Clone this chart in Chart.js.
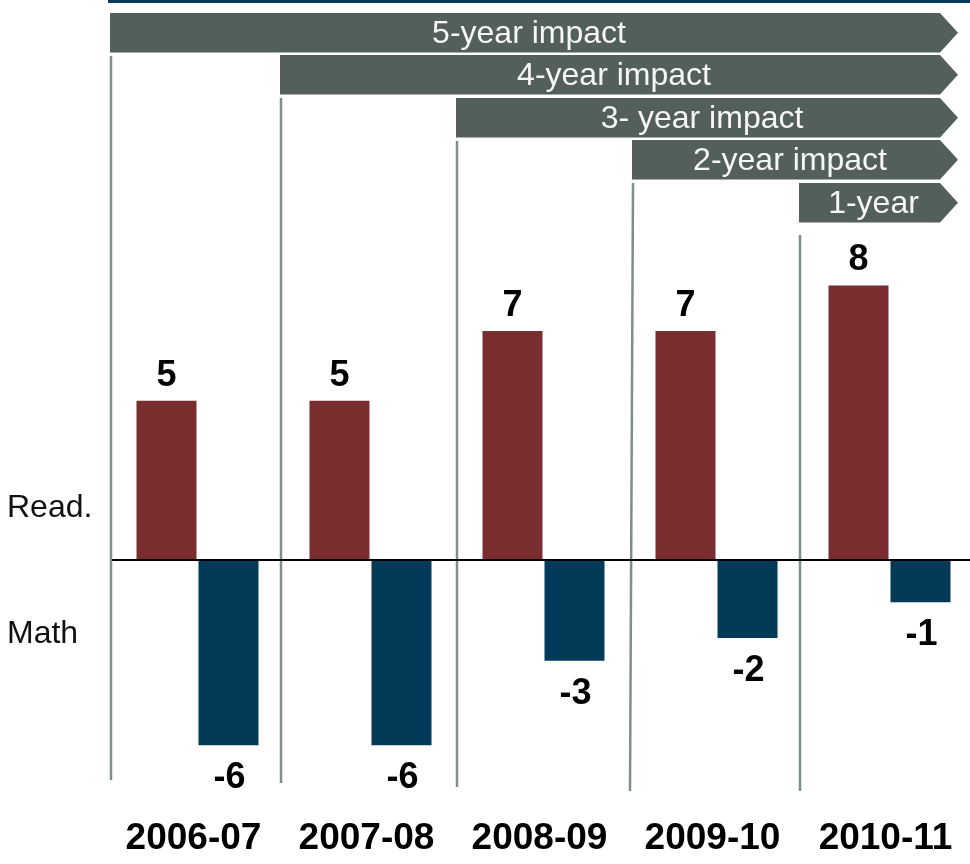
<!DOCTYPE html>
<html>
<head>
<meta charset="utf-8">
<script src="https://cdn.jsdelivr.net/npm/chart.js@4/dist/chart.umd.min.js"></script>
<style>
  html, body { margin: 0; padding: 0; background: #fff; overflow: hidden; }
  #wrap { width: 970px; height: 864px; overflow: hidden; position: relative; }
  canvas { display: block; }
</style>
</head>
<body>
<div id="wrap"><canvas id="c" width="976" height="864"></canvas></div>
<script>
// ---- data ----
const categories = ['2006-07', '2007-08', '2008-09', '2009-10', '2010-11'];
const seriesNames = ['Read.', 'Math'];
const readingValues = [4.9, 4.9, 7.05, 7.05, 8.45];
const mathValues = [-5.7, -5.7, -3.1, -2.4, -1.3];
const readingLabels = ['5', '5', '7', '7', '8'];
const mathLabels = ['-6', '-6', '-3', '-2', '-1'];
const bannerLabels = ['5-year impact', '4-year impact', '3- year impact', '2-year impact', '1-year'];

// ---- style ----
const FONT = '"Liberation Sans", Arial, sans-serif';
const RED = '#7a2d2e';
const BLUE = '#033a58';
const BANNER = '#535f5d';
const VLINE = '#7f8e8c';

const decor = {
  id: 'decor',
  beforeDatasetsDraw(chart) {
    const ctx = chart.ctx;
    const x = chart.scales.x;
    const catW = (x.getPixelForValue(1) - x.getPixelForValue(0));
    const bodyRight = 940, tipRight = 958;
    const bannerTops = [13, 55, 98, 140, 183];
    const bannerH = 39.5;
    const edgeNudge = [-1, -4, -1, 2, -4];
    const lineTops = [56, 98, 141, 183, 235];
    const lineBottoms = [780, 783, 787, 791, 791];
    const lineSlant = [0, 0, 0, -3, 0];
    ctx.save();
    // top rule
    ctx.fillStyle = '#0b3a5c';
    ctx.fillRect(108, 0, 862, 3);
    for (let i = 0; i < categories.length; i++) {
      const left = x.getPixelForValue(i) - catW / 2 + edgeNudge[i];
      const t = bannerTops[i];
      // banner arrow
      ctx.fillStyle = BANNER;
      ctx.beginPath();
      ctx.moveTo(left, t);
      ctx.lineTo(bodyRight, t);
      ctx.lineTo(tipRight, t + bannerH / 2);
      ctx.lineTo(bodyRight, t + bannerH);
      ctx.lineTo(left, t + bannerH);
      ctx.closePath();
      ctx.fill();
      ctx.fillStyle = '#f6f6f6';
      ctx.font = '32px ' + FONT;
      ctx.textAlign = 'center';
      ctx.textBaseline = 'middle';
      ctx.fillText(bannerLabels[i], (left + bodyRight) / 2 + 4, t + bannerH / 2 + 1);
      // vertical separator
      ctx.strokeStyle = VLINE;
      ctx.lineWidth = 2.5;
      ctx.beginPath();
      ctx.moveTo(left + 1, lineTops[i]);
      ctx.lineTo(left + 1 + lineSlant[i], lineBottoms[i]);
      ctx.stroke();
    }
    // series labels on the left
    ctx.fillStyle = '#111';
    ctx.font = '32px ' + FONT;
    ctx.textAlign = 'left';
    ctx.textBaseline = 'alphabetic';
    ctx.fillText(seriesNames[0], 7, 517);
    ctx.fillText(seriesNames[1], 7, 643);
    ctx.restore();
  },
  afterDatasetsDraw(chart) {
    const ctx = chart.ctx;
    const x = chart.scales.x;
    const y = chart.scales.y;
    ctx.save();
    // zero line
    const y0 = y.getPixelForValue(0);
    ctx.strokeStyle = '#000';
    ctx.lineWidth = 2;
    ctx.beginPath();
    ctx.moveTo(112, y0);
    ctx.lineTo(970, y0);
    ctx.stroke();
    // value labels
    ctx.fillStyle = '#000';
    ctx.font = 'bold 36px ' + FONT;
    ctx.textAlign = 'center';
    ctx.textBaseline = 'alphabetic';
    const m0 = chart.getDatasetMeta(0), m1 = chart.getDatasetMeta(1);
    m0.data.forEach((bar, i) => {
      ctx.fillText(readingLabels[i], bar.x, bar.y - 15);
    });
    m1.data.forEach((bar, i) => {
      ctx.fillText(mathLabels[i], bar.x + 1, bar.y + 43);
    });
    // category labels
    ctx.font = 'bold 37px ' + FONT;
    categories.forEach((c, i) => {
      ctx.fillText(c, x.getPixelForValue(i) - 4, 849);
    });
    ctx.restore();
  }
};

new Chart(document.getElementById('c'), {
  type: 'bar',
  data: {
    labels: categories,
    datasets: [
      { label: seriesNames[0], data: readingValues, backgroundColor: RED, borderWidth: 0,
        categoryPercentage: 0.7168, barPercentage: 0.9677 },
      { label: seriesNames[1], data: mathValues, backgroundColor: BLUE, borderWidth: 0,
        categoryPercentage: 0.7168, barPercentage: 0.9677 }
    ]
  },
  options: {
    responsive: false,
    animation: false,
    devicePixelRatio: 1,
    layout: { padding: { left: 111, right: 0, top: 7.5, bottom: 76.5 } },
    plugins: { legend: { display: false }, tooltip: { enabled: false } },
    scales: {
      x: { display: false },
      y: { display: false, min: -7, max: 17 }
    }
  },
  plugins: [decor]
});
</script>
</body>
</html>
